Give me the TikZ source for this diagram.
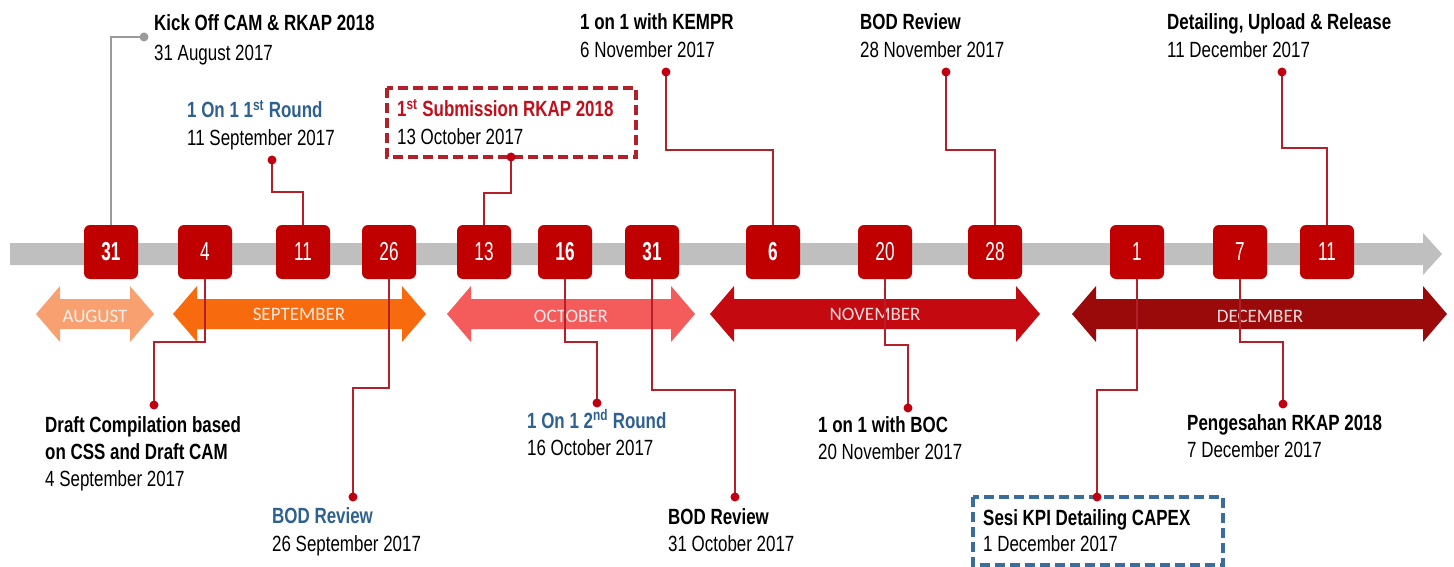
\documentclass[tikz,border=0pt]{standalone}
\usepackage{fontspec}
\setmainfont{Liberation Sans}[FakeStretch=0.77]
\newfontfamily\monthfont{Carlito}
\newfontfamily\numfont{Liberation Sans}[FakeStretch=0.66]
\definecolor{boxred}{HTML}{C00000}
\definecolor{linered}{HTML}{B3202A}
\definecolor{dotred}{HTML}{C00010}
\definecolor{bargray}{HTML}{BFBFBF}
\definecolor{linegray}{HTML}{9A9A9A}
\definecolor{augc}{HTML}{F9A070}
\definecolor{sepc}{HTML}{F86A0E}
\definecolor{octc}{HTML}{F45B5B}
\definecolor{novc}{HTML}{C40A10}
\definecolor{decc}{HTML}{9B0A0A}
\definecolor{tblue}{HTML}{2F6190}
\definecolor{dblue}{HTML}{3A6D9C}
\definecolor{dred}{HTML}{B22029}
\definecolor{tred}{HTML}{C0101C}
\newcommand\marrow[3]{\fill[#3] (#1,314) -- (#1+24,286) -- (#1+24,299) -- (#2-24,299) -- (#2-24,286) -- (#2,314) -- (#2-24,342) -- (#2-24,329) -- (#1+24,329) -- (#1+24,342) -- cycle;}
\tikzset{
  datebox/.style={fill=boxred, rounded corners=6pt, minimum width=54pt, minimum height=54pt, inner sep=0pt, text=white, font=\numfont\fontsize{26}{26}\selectfont},
  boldnum/.style={font=\numfont\fontsize{26}{26}\selectfont\bfseries},
  conn/.style={draw=linered, line width=1.8pt},
  gconn/.style={draw=linegray, line width=1.8pt},
  ttl/.style={anchor=base west, inner sep=0pt, font=\fontsize{22}{22}\selectfont\bfseries},
  dt/.style={anchor=base west, inner sep=0pt, font=\fontsize{22}{22}\selectfont},
  monthlbl/.style={inner sep=0pt, text=white, text opacity=0.85, font=\monthfont\fontsize{19}{19}\selectfont},
  dashbox/.style={line width=3.5pt, dash pattern=on 10pt off 5pt}
}
\begin{document}
\begin{tikzpicture}[x=1pt,y=-1pt]
\useasboundingbox (0,0) rectangle (1454,567);
% gray timeline
\fill[bargray] (10,243) -- (1423,243) -- (1423,233) -- (1442,254) -- (1423,275) -- (1423,265) -- (10,265) -- cycle;
% month arrows
\marrow{36}{154}{augc}
\marrow{173}{426}{sepc}
\marrow{447}{695}{octc}
\marrow{710}{1040}{novc}
\marrow{1072}{1447}{decc}
\node[monthlbl] (mAug) at (95,316) {AUGUST};
\node[monthlbl] (mSep) at (299,314) {SEPTEMBER};
\node[monthlbl] (mOct) at (571,316) {OCTOBER};
\node[monthlbl] (mNov) at (875,314) {NOVEMBER};
\node[monthlbl] (mDec) at (1260,316) {DECEMBER};
% dashed boxes
\draw[dashbox, dred] (387,88) rectangle (636,157);
\draw[dashbox, dblue] (973,497) rectangle (1223,565);
% date boxes
\node[datebox, boldnum] (bA31) at (111,252) {31};
\node[datebox] (bS4) at (205,252) {4};
\node[datebox] (bS11) at (303,252) {11};
\node[datebox] (bS26) at (389,252) {26};
\node[datebox] (bO13) at (484,252) {13};
\node[datebox, boldnum] (bO16) at (565,252) {16};
\node[datebox, boldnum] (bO31) at (652,252) {31};
\node[datebox, boldnum] (bN6) at (773,252) {6};
\node[datebox] (bN20) at (885,252) {20};
\node[datebox] (bN28) at (995,252) {28};
\node[datebox] (bD1) at (1137,252) {1};
\node[datebox] (bD7) at (1240,252) {7};
\node[datebox] (bD11) at (1327,252) {11};
% dot coordinates
\coordinate (pA31) at (144,37);
\coordinate (pS11) at (272,160);
\coordinate (pO13) at (511,157);
\coordinate (pN6) at (666,72);
\coordinate (pN28) at (946,72);
\coordinate (pD11) at (1282,72);
\coordinate (pS4) at (154,405);
\coordinate (pS26) at (353,497);
\coordinate (pO16) at (597,403);
\coordinate (pO31) at (735,497);
\coordinate (pN20) at (908,408);
\coordinate (pD1) at (1097,497);
\coordinate (pD7) at (1283,404);
% connectors
\draw[gconn] (bA31.north) |- (pA31);
\draw[conn] (bS11.north) -- ++(0,-33) -| (pS11);
\draw[conn] (bO13.north) -- ++(0,-32) -| (pO13);
\draw[conn] (bN6.north) -- ++(0,-75) -| (pN6);
\draw[conn] (bN28.north) -- ++(0,-75) -| (pN28);
\draw[conn] (bD11.north) -- ++(0,-77) -| (pD11);
\draw[conn] (bS4.south) -- ++(0,63) -| (pS4);
\draw[conn] (bS26.south) -- ++(0,109) -| (pS26);
\draw[conn] (bO16.south) -- ++(0,63) -| (pO16);
\draw[conn] (bO31.south) -- ++(0,111) -| (pO31);
\draw[conn] (bN20.south) -- ++(0,66) -| (pN20);
\draw[conn] (bD1.south) -- ++(0,111) -| (pD1);
\draw[conn] (bD7.south) -- ++(0,63) -| (pD7);
% dots
\fill[linegray] (pA31) circle (4.5pt);
\foreach \p in {pS11,pO13,pN6,pN28,pD11,pS4,pS26,pO16,pO31,pN20,pD1,pD7}
  \fill[dotred] (\p) circle (4.5pt);
% labels top
\node[ttl] (tA31) at (154,31) {Kick Off CAM \& RKAP 2018};
\node[dt] (dA31) at (154,61) {31 August 2017};
\node[ttl, text=tblue] (tS11) at (187,118) {1 On 1 1\textsuperscript{st} Round};
\node[dt] (dS11) at (187,146) {11 September 2017};
\node[ttl, text=tred] (tO13) at (397,117) {1\textsuperscript{st} Submission RKAP 2018};
\node[dt] (dO13) at (397,145) {13 October 2017};
\node[ttl] (tN6) at (580,30) {1 on 1 with KEMPR};
\node[dt] (dN6) at (580,58) {6 November 2017};
\node[ttl] (tN28) at (860,30) {BOD Review};
\node[dt] (dN28) at (860,58) {28 November 2017};
\node[ttl] (tD11) at (1167,30) {Detailing, Upload \& Release};
\node[dt] (dD11) at (1167,58) {11 December 2017};
% labels bottom
\node[ttl] (tS4a) at (45,432) {Draft Compilation based};
\node[ttl] (tS4b) at (45,459) {on CSS and Draft CAM};
\node[dt] (dS4) at (45,486) {4 September 2017};
\node[ttl, text=tblue] (tS26) at (272,523) {BOD Review};
\node[dt] (dS26) at (272,551) {26 September 2017};
\node[ttl, text=tblue] (tO16) at (527,428) {1 On 1 2\textsuperscript{nd} Round};
\node[dt] (dO16) at (527,455) {16 October 2017};
\node[ttl] (tO31) at (668,524) {BOD Review};
\node[dt] (dO31) at (668,551) {31 October 2017};
\node[ttl] (tN20) at (818,432) {1 on 1 with BOC};
\node[dt] (dN20) at (818,459) {20 November 2017};
\node[ttl] (tD1) at (983,525) {Sesi KPI Detailing CAPEX};
\node[dt] (dD1) at (983,551) {1 December 2017};
\node[ttl] (tD7) at (1187,430) {Pengesahan RKAP 2018};
\node[dt] (dD7) at (1187,457) {7 December 2017};
\end{tikzpicture}
\end{document}
